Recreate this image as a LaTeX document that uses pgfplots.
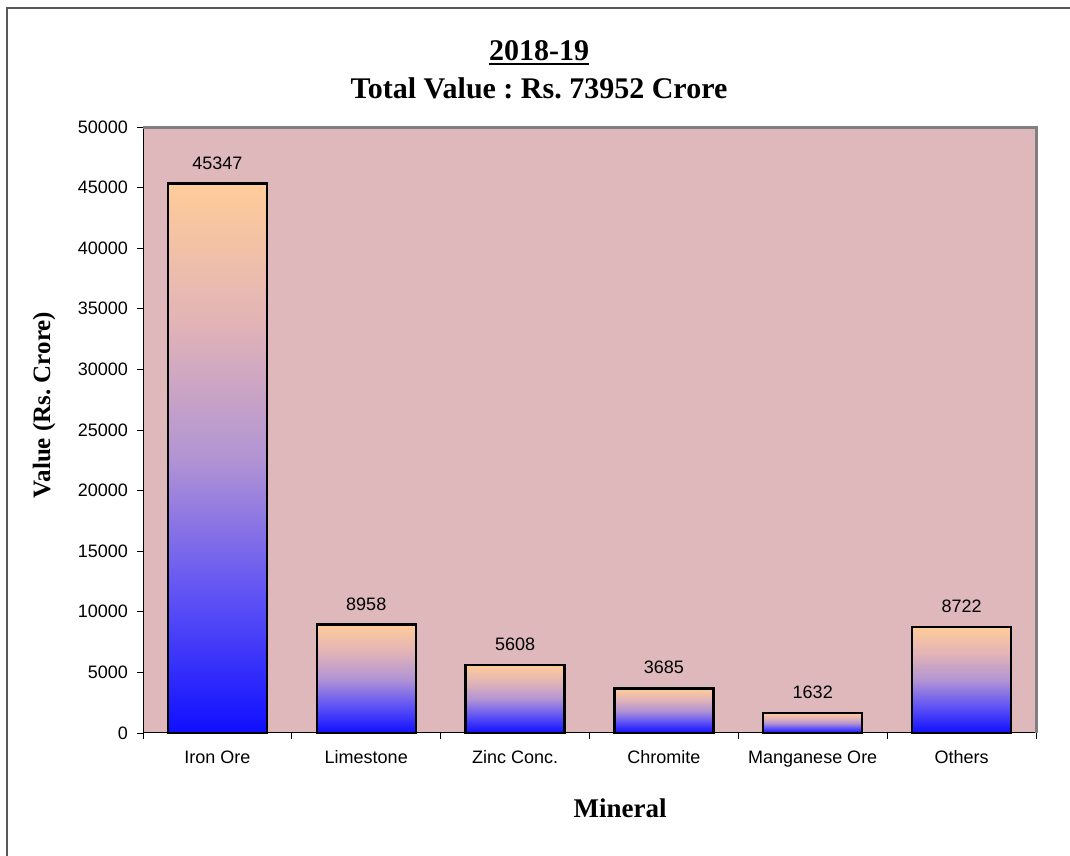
\documentclass[border=0pt]{standalone}
\usepackage{pgfplots}
\pgfplotsset{compat=1.18}
\usepackage{fontspec}
\setmainfont{Liberation Serif}
\newfontfamily\arial{Liberation Sans}
\frenchspacing
\definecolor{bgpink}{RGB}{222,184,187}
\definecolor{cA}{RGB}{15,15,255}
\definecolor{cB}{RGB}{95,82,245}
\definecolor{cC}{RGB}{178,148,212}
\definecolor{cD}{RGB}{226,180,182}
\definecolor{cE}{RGB}{255,204,153}
\pgfdeclareverticalshading{barshade}{100bp}{color(0bp)=(cA); color(25bp)=(cA); color(37.5bp)=(cB); color(50bp)=(cC); color(62.5bp)=(cD); color(75bp)=(cE); color(100bp)=(cE)}
\pgfplotsset{
  mybar/.style={ybar, bar shift=0pt, bar width=0.665, draw=black, line width=1.2pt, shading=barshade,
    nodes near coords, nodes near coords style={font=\arial\fontsize{9}{10}\selectfont, anchor=south, inner sep=0pt, yshift=6.5pt, text=black}}
}
\begin{document}
\begin{tikzpicture}
\useasboundingbox (0,0) rectangle (535pt,428pt);
% outer frame (left and top edges visible)
\draw[gray!70!black, line width=0.8pt] (3.5pt,0pt) -- (3.5pt,424pt) -- (535pt,424pt);
\begin{axis}[
  at={(71.5pt,61.5pt)}, anchor=south west,
  scale only axis, width=446.5pt, height=303pt,
  xmin=-0.5, xmax=5.5, ymin=0, ymax=50000,
  ytick={0,5000,...,50000},
  xtick={-0.5,0.5,...,5.5},
  x tick label as interval,
  xticklabels={Iron Ore,Limestone,Zinc Conc.,Chromite,Manganese Ore,Others},
  xtick pos=bottom, ytick pos=left,
  tick align=outside, major tick length=3pt,
  tick style={black, line width=0.4pt},
  scaled y ticks=false,
  /pgf/number format/1000 sep={},
  /pgf/number format/assume math mode=true,
  ticklabel style={font=\arial\fontsize{9}{10}\selectfont},
  xticklabel style={yshift=-1.5pt, text height=7pt, text depth=2pt},
  yticklabel style={xshift=-1pt},
  axis background/.style={fill=bgpink},
  axis line style={black, line width=0.5pt},
  clip=false,
]
\addplot[mybar] coordinates {(0,45347)};
\addplot[mybar] coordinates {(1,8958)};
\addplot[mybar] coordinates {(2,5608)};
\addplot[mybar] coordinates {(3,3685)};
\addplot[mybar] coordinates {(4,1632)};
\addplot[mybar] coordinates {(5,8722)};
\draw[gray, line width=1.5pt] (rel axis cs:0,1) -- (rel axis cs:1,1) -- (rel axis cs:1,0);
\end{axis}
\node[anchor=base, inner sep=0pt, font=\bfseries\fontsize{15}{18}\selectfont] (t1) at (269.5pt,397.8pt) {2018-19};
\draw[line width=1pt] ([yshift=-2pt]t1.base west) -- ([yshift=-2pt]t1.base east);
\node[anchor=base, font=\bfseries\fontsize{15}{18}\selectfont] at (269.5pt,378.8pt) {Total Value : Rs. 73952 Crore};
\node[anchor=base, rotate=90, font=\bfseries\fontsize{12.5}{15}\selectfont] at (25pt,225.5pt) {Value (Rs. Crore)};
\node[anchor=base, font=\bfseries\fontsize{13.5}{16}\selectfont] at (310pt,19pt) {Mineral};
\end{tikzpicture}
\end{document}
